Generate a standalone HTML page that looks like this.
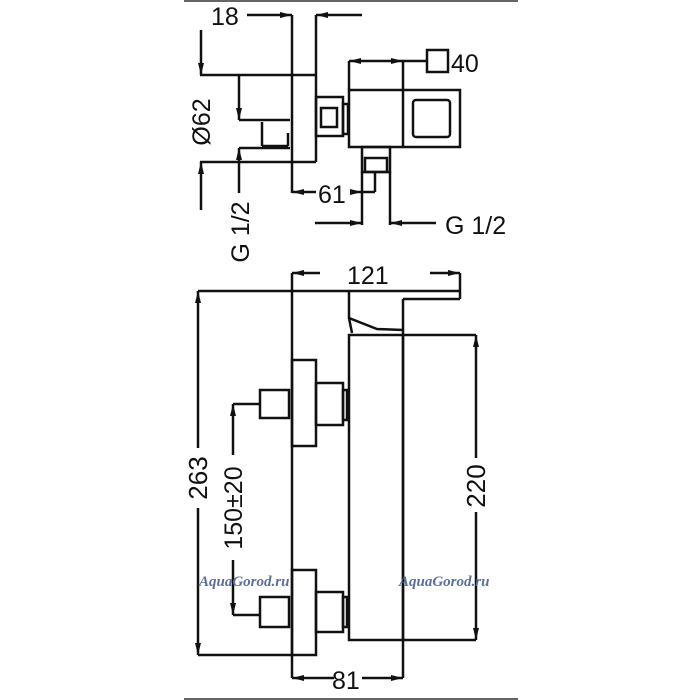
<!DOCTYPE html>
<html><head><meta charset="utf-8"><style>
html,body{margin:0;padding:0;background:#fff;width:700px;height:700px;overflow:hidden}
svg{display:block}
text{font-family:"Liberation Sans",sans-serif;fill:#111}
text.wm{font-family:"Liberation Serif",serif;font-weight:bold;font-style:italic;font-size:15px;fill:#5a6f9a}
</style></head><body>
<svg width="700" height="700" viewBox="0 0 700 700">
<defs>
<marker id="a" viewBox="0 0 12 6" refX="12" refY="3" markerWidth="12" markerHeight="6" markerUnits="userSpaceOnUse" orient="auto-start-reverse"><path d="M0,0L12,3L0,6z" fill="#111"/></marker>
</defs>
<line x1="184" y1="1" x2="518" y2="1" stroke="#666" stroke-width="2"/>
<line x1="184" y1="699" x2="518" y2="699" stroke="#666" stroke-width="2"/>
<g stroke="#111" stroke-width="2.5" fill="none">
<line x1="292" y1="15" x2="292" y2="193"/>
<line x1="316" y1="15" x2="316" y2="162"/>
<line x1="200" y1="75" x2="316" y2="75"/>
<line x1="200" y1="162" x2="316" y2="162"/>
<line x1="247" y1="15" x2="292" y2="15" marker-end="url(#a)"/>
<line x1="362" y1="15" x2="316" y2="15" marker-end="url(#a)"/>
<line x1="201" y1="30" x2="201" y2="75" marker-end="url(#a)"/>
<line x1="201" y1="210" x2="201" y2="162" marker-end="url(#a)"/>
<line x1="239" y1="75" x2="239" y2="120" marker-end="url(#a)"/>
<line x1="239" y1="120" x2="290" y2="120"/>
<line x1="239" y1="193" x2="239" y2="148" marker-end="url(#a)"/>
<line x1="239" y1="148" x2="290" y2="148"/>
<line x1="262" y1="122" x2="262" y2="146"/>
<line x1="262" y1="146" x2="288" y2="146"/>
<line x1="288" y1="133" x2="288" y2="146"/>
<rect x="316" y="97" width="27" height="39"/>
<rect x="321" y="108" width="16" height="19"/>
<rect x="343" y="104" width="5" height="30"/>
<rect x="349" y="90" width="111" height="57"/>
<line x1="403" y1="61" x2="403" y2="147"/>
<rect x="413" y="100" width="37" height="37" rx="3"/>
<line x1="349" y1="61" x2="349" y2="90"/>
<line x1="349" y1="61" x2="403" y2="61" marker-start="url(#a)" marker-end="url(#a)"/>
<line x1="403" y1="61" x2="427" y2="61"/>
<rect x="427" y="50" width="21" height="22"/>
<rect x="362" y="147" width="28" height="25"/>
<rect x="365" y="158" width="22" height="14"/>
<line x1="362" y1="172" x2="362" y2="225"/>
<line x1="390" y1="172" x2="390" y2="225"/>
<line x1="315" y1="223" x2="362" y2="223" marker-end="url(#a)"/>
<line x1="436" y1="223" x2="390" y2="223" marker-end="url(#a)"/>
<line x1="316" y1="192" x2="292" y2="192" marker-end="url(#a)"/>
<line x1="350" y1="192" x2="362" y2="192" marker-end="url(#a)"/>
<line x1="362" y1="192" x2="375" y2="192"/>
<line x1="375" y1="172" x2="375" y2="192"/>
<line x1="292" y1="273" x2="292" y2="678"/>
<line x1="460" y1="273" x2="460" y2="299"/>
<line x1="320" y1="273" x2="292" y2="273" marker-end="url(#a)"/>
<line x1="430" y1="273" x2="460" y2="273" marker-end="url(#a)"/>
<line x1="198" y1="291" x2="460" y2="291"/>
<line x1="403" y1="299" x2="460" y2="299"/>
<line x1="403" y1="299" x2="403" y2="678"/>
<path d="M349,291 L349,318 L377,329 L403,330"/>
<path d="M352,333 L349,318"/>
<rect x="349" y="335" width="54" height="305"/>
<line x1="403" y1="335" x2="476" y2="335"/>
<line x1="403" y1="640" x2="476" y2="640"/>
<line x1="476" y1="458" x2="476" y2="335" marker-end="url(#a)"/>
<line x1="476" y1="512" x2="476" y2="640" marker-end="url(#a)"/>
<line x1="198" y1="655" x2="292" y2="655"/>
<line x1="198" y1="448" x2="198" y2="291" marker-end="url(#a)"/>
<line x1="198" y1="508" x2="198" y2="655" marker-end="url(#a)"/>
<rect x="292" y="360" width="24" height="86"/>
<rect x="316" y="383" width="27" height="42"/>
<rect x="343" y="390" width="4" height="30"/>
<rect x="260" y="390" width="29" height="28"/>
<rect x="292" y="570" width="24" height="85"/>
<rect x="316" y="592" width="27" height="40"/>
<rect x="343" y="597" width="4" height="30"/>
<rect x="260" y="597" width="29" height="30"/>
<line x1="233" y1="404" x2="260" y2="404"/>
<line x1="233" y1="615" x2="260" y2="615"/>
<line x1="233" y1="455" x2="233" y2="404" marker-end="url(#a)"/>
<line x1="233" y1="560" x2="233" y2="615" marker-end="url(#a)"/>
<line x1="334" y1="678" x2="292" y2="678" marker-end="url(#a)"/>
<line x1="362" y1="678" x2="403" y2="678" marker-end="url(#a)"/>
</g>
<g font-size="25">
<text x="211" y="25">18</text>
<text x="451" y="72">40</text>
<text x="318" y="203">61</text>
<text x="445" y="234">G 1/2</text>
<text x="347" y="284">121</text>
<text x="332" y="689">81</text>
<text transform="translate(210,122) rotate(-90)" text-anchor="middle">Ø62</text>
<text transform="translate(249,232) rotate(-90)" text-anchor="middle">G 1/2</text>
<text transform="translate(207,478) rotate(-90)" text-anchor="middle" font-size="26">263</text>
<text transform="translate(242,508) rotate(-90)" text-anchor="middle">150±20</text>
<text transform="translate(485,486) rotate(-90)" text-anchor="middle" font-size="26">220</text>
</g>
<text class="wm" x="199" y="586">AquaGorod.ru</text>
<text class="wm" x="399" y="586">AquaGorod.ru</text>
</svg>
</body></html>
